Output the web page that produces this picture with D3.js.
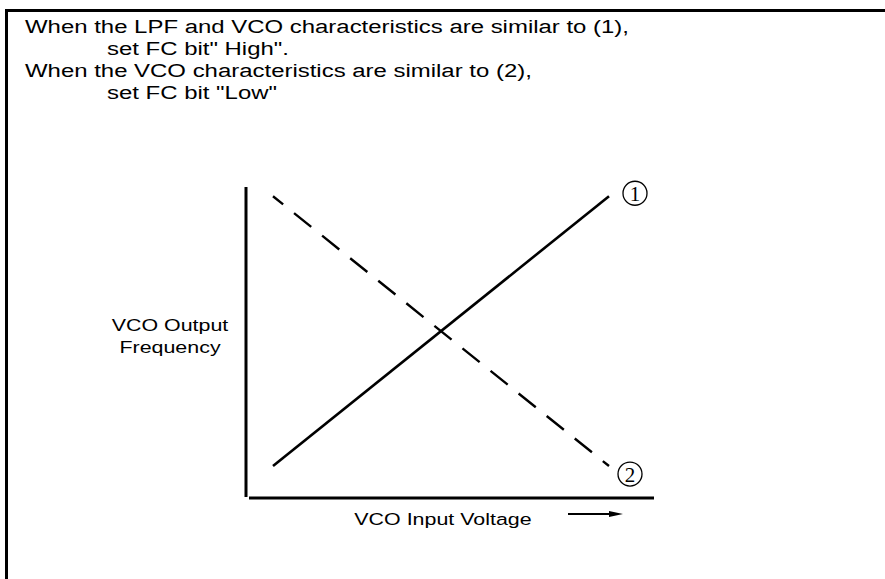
<!DOCTYPE html>
<html><head><meta charset="utf-8">
<script src="https://cdn.jsdelivr.net/npm/d3@7"></script>
<style>body{margin:0;background:#fff}svg{display:block}</style>
</head><body>
<svg id="c" width="885" height="579"></svg>
<script>
const noteLines = [
  {text: "When the LPF and VCO characteristics are similar to (1),", indent: 0},
  {text: "set FC bit\" High\".", indent: 1},
  {text: "When the VCO characteristics are similar to (2),", indent: 0},
  {text: "set FC bit \"Low\"", indent: 1}
];
const xDomain = [0, 10];
const yDomain = [0, 10];
const series1 = [{x: 1, y: 1}, {x: 9, y: 9}];   // (1) solid, rising
const series2 = [{x: 1, y: 9}, {x: 9, y: 1}];   // (2) dashed, falling
const seriesLabels = ["1", "2"];
const xTitle = "VCO Input Voltage";
const yTitle = ["VCO Output", "Frequency"];

const svg = d3.select("#c");
const font = "'Liberation Sans', Arial, sans-serif";
const SX = 1.26; // horizontal stretch of the lettering

function stretchedText(parent, tx, ty, txt, size, anchor) {
  return parent.append("text")
    .attr("transform", `translate(${tx},${ty}) scale(${SX},1)`)
    .attr("font-family", font).attr("font-size", size)
    .attr("text-anchor", anchor || "start").attr("fill", "#000").text(txt);
}

// frame
svg.append("path").attr("d", "M6.5,579 V10.5 H885")
  .attr("fill", "none").attr("stroke", "#000").attr("stroke-width", 3);

// notes
const notes = svg.append("g");
noteLines.forEach((l, i) => {
  stretchedText(notes, l.indent ? 107 : 25, 33 + i * 22, l.text, 19);
});

// scales
const x = d3.scaleLinear().domain(xDomain).range([231, 651]);
const y = d3.scaleLinear().domain(yDomain).range([499.75, 162.5]);

// axes lines
svg.append("line").attr("x1", 246).attr("x2", 246).attr("y1", 187).attr("y2", 497)
  .attr("stroke", "#000").attr("stroke-width", 3);
svg.append("line").attr("x1", 249).attr("x2", 654).attr("y1", 498).attr("y2", 498)
  .attr("stroke", "#000").attr("stroke-width", 3);

const line = d3.line().x(d => x(d.x)).y(d => y(d.y));
svg.append("path").datum(series1).attr("d", line)
  .attr("fill", "none").attr("stroke", "#000").attr("stroke-width", 2.6);
svg.append("path").datum(series2).attr("d", line)
  .attr("fill", "none").attr("stroke", "#000").attr("stroke-width", 2.4)
  .attr("stroke-dasharray", "22,14").attr("stroke-dashoffset", 9);

// series labels
const lbl = [{p: series1[1], dx: 26, dy: -3, t: seriesLabels[0]}, {p: series2[1], dx: 21, dy: 8, t: seriesLabels[1]}];
lbl.forEach(d => {
  const g = svg.append("g").attr("transform", `translate(${x(d.p.x) + d.dx},${y(d.p.y) + d.dy})`);
  g.append("circle").attr("r", 12).attr("fill", "none").attr("stroke", "#000").attr("stroke-width", 1.3);
  g.append("text").attr("text-anchor", "middle").attr("y", 7.5).attr("font-family", "'Liberation Serif', serif")
    .attr("font-size", 21).text(d.t);
});

// axis titles
stretchedText(svg, 443, 525, xTitle, 17, "middle");
yTitle.forEach((t, i) => stretchedText(svg, 170, 331 + i * 22, t, 17, "middle"));

// arrow
svg.append("line").attr("x1", 568).attr("x2", 612).attr("y1", 514).attr("y2", 514)
  .attr("stroke", "#000").attr("stroke-width", 2);
svg.append("path").attr("d", "M609,511 L623,514 L609,517 Z").attr("fill", "#000");
</script>
</body></html>
